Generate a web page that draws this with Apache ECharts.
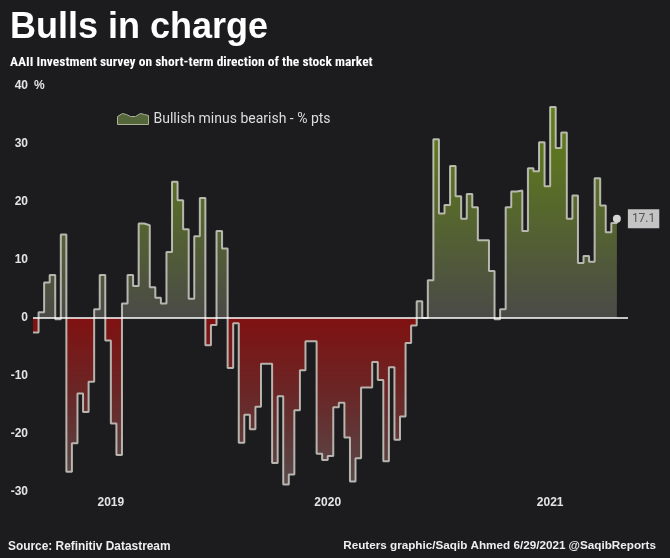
<!DOCTYPE html>
<html><head><meta charset="utf-8">
<script src="https://cdn.jsdelivr.net/npm/echarts@6/dist/echarts.min.js"></script>
<style>html,body{margin:0;padding:0;background:#1c1b1e}#c{width:670px;height:558px}</style>
</head><body><div id="c"></div>
<script>
// Bull-bear spread (% pts), one value per survey step
const spread = [
  -2.5, 1, 6.1, 7.4, -0.2, 14.4, -26.5, -21.6, -13, -16.2,
  -11, 1.5, 7.4, -3.9, -18.2, -23.6, 2.5, 7.4, 5.5, 16.3,
  16, 5.3, 3.5, 2.5, 11.4, 23.5, 20.3, 15.3, 3.3, 14.1,
  20.7, -4.7, -1.2, 15, 12, -8.6, -0.9, -21.5, -16.7, -19.2,
  -15.3, -7.9, -7.9, -25, -13.5, -28.7, -27, -15.9, -9, -4,
  -4, -23.4, -24.5, -23.8, -15.4, -14.6, -20.6, -28.2, -24.2, -12,
  -12, -7.6, -10.7, -24.7, -8.5, -21, -17, -4.3, -1.3, 2.9,
  0, 6.5, 30.8, 18, 19.5, 26.2, 21, 17.1, 21.4, 19.1,
  13.4, 13.4, 8.1, -0.2, 1.5, 19.1, 21.8, 22, 15, 25.8,
  25.3, 30.3, 22.7, 36.4, 29.3, 32, 17.1, 21.1, 9.5, 10.7,
  9.7, 24.1, 19.4, 14.8, 16.4, 17.1
];
const yearLabels = ['2019', '2020', '2021'];
const yearLabelStep = [14, 53, 93];
const yTickMin = -30, yTickMax = 40, yTickStep = 10;
const seriesName = 'Bullish minus bearish - % pts';
const titleText = 'Bulls in charge';
const subtitleText = 'AAII Investment survey on short-term direction of the stock market';
const sourceText = 'Source: Refinitiv Datastream';
const creditText = 'Reuters graphic/Saqib Ahmed 6/29/2021 @SaqibReports';

const PAD = 2;
const categories = [];
for (let i = 0; i < spread.length + PAD; i++) categories.push(String(i));
const labelMap = {};
yearLabelStep.forEach((s, k) => { labelMap[s] = yearLabels[k]; });

const vMax = Math.max(...spread), vMin = Math.min(...spread);
const zf = vMax / (vMax - vMin);
const areaGrad = new echarts.graphic.LinearGradient(0, 0, 0, 1, [
  { offset: 0, color: '#627f17' },
  { offset: zf * 0.45, color: '#57692b' },
  { offset: zf, color: '#4a4a47' },
  { offset: zf, color: '#801111' },
  { offset: zf + (1 - zf) * 0.45, color: '#6a2626' },
  { offset: 1, color: '#564b4b' }
]);

const seriesData = spread.map((v, i) => i === spread.length - 1
  ? { value: v, symbol: 'circle', symbolSize: 8, itemStyle: { color: '#d4d4d4' } }
  : v);

const narrowFont = "'Liberation Sans Narrow','Roboto Condensed','Arial Narrow',sans-serif";
const sansFont = "'Liberation Sans', Arial, sans-serif";
const chart = echarts.init(document.getElementById('c'), null, { renderer: 'canvas' });
chart.setOption({
  backgroundColor: '#1c1b1e',
  animation: false,
  grid: { left: 33, right: 42, top: 86, bottom: 66, containLabel: false },
  legend: {
    left: 112, top: 107, itemWidth: 31, itemHeight: 13, itemGap: 5,
    data: [{
      name: seriesName,
      icon: 'path://M0,5 L5,2 L9,3 L13,5 L18,5 L23,2 L27,3 L31,4 L31,13 L0,13 Z',
      itemStyle: { color: '#55663a', borderColor: '#aab09a', borderWidth: 1 }
    }],
    textStyle: { color: '#dedede', fontSize: 14, fontFamily: 'Roboto, sans-serif' }
  },
  xAxis: {
    type: 'category', data: categories, boundaryGap: false,
    axisLine: { show: false }, axisTick: { show: false }, splitLine: { show: false },
    axisLabel: {
      interval: (idx) => labelMap[idx] !== undefined,
      formatter: (val, idx) => labelMap[idx] || '',
      color: '#e4e4e4', fontWeight: 'bold', fontSize: 12, margin: 5,
      fontFamily: sansFont
    }
  },
  yAxis: {
    type: 'value', min: yTickMin, max: yTickMax, interval: yTickStep,
    axisLine: { show: false }, axisTick: { show: false }, splitLine: { show: false },
    axisLabel: { color: '#e4e4e4', fontWeight: 'bold', fontSize: 12, margin: 5,
      fontFamily: sansFont },
    name: '%', nameLocation: 'end', nameGap: 0,
    nameTextStyle: { color: '#e4e4e4', fontWeight: 'bold', fontSize: 12, align: 'left',
      verticalAlign: 'middle', padding: [0, 0, 0, 1], fontFamily: sansFont }
  },
  series: [{
    name: seriesName, type: 'line', step: 'end', data: seriesData,
    symbol: 'none', showSymbol: true, showAllSymbol: true,
    lineStyle: { color: 'rgba(205,205,198,0.85)', width: 2 },
    itemStyle: { color: '#55663a' },
    areaStyle: { color: areaGrad, opacity: 1 },
    endLabel: {
      show: true, formatter: (p) => String(p.value), distance: 11,
      color: '#555555', backgroundColor: '#c4c4c4', padding: [4, 4, 3, 4],
      fontSize: 12, fontFamily: 'Roboto, sans-serif'
    },
    markLine: {
      silent: true, symbol: ['none', 'none'], label: { show: false },
      lineStyle: { color: '#ffffff', width: 1.5, type: 'solid' },
      data: [{ yAxis: 0 }]
    }
  }],
  graphic: [
    { type: 'text', x: 10, y: 28, style: { text: titleText, fill: '#ffffff',
      font: "bold 36px " + sansFont, verticalAlign: 'middle' } },
    { type: 'text', x: 10, y: 63, style: { text: subtitleText, fill: '#ffffff',
      font: "bold 13.5px " + narrowFont, verticalAlign: 'middle' } },
    { type: 'text', x: 8, y: 547, style: { text: sourceText, fill: '#eeeeee',
      font: "bold 11.9px " + sansFont, verticalAlign: 'middle' } },
    { type: 'text', x: 656, y: 546, style: { text: creditText, fill: '#eeeeee', align: 'right',
      font: "bold 11.7px " + sansFont, verticalAlign: 'middle' } }
  ]
});
</script></body></html>
